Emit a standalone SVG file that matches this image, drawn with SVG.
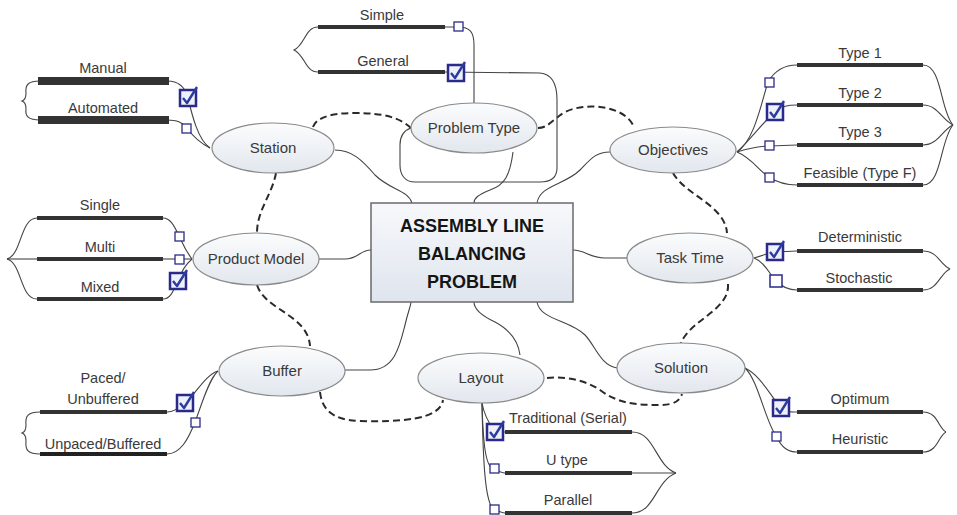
<svg xmlns="http://www.w3.org/2000/svg" xmlns:xlink="http://www.w3.org/1999/xlink" width="957" height="515" viewBox="0 0 957 515">
<defs>
<linearGradient id="eg" x1="0" y1="0" x2="0" y2="1">
<stop offset="0" stop-color="#fbfcfd"/><stop offset="1" stop-color="#e2e7ee"/>
</linearGradient>
<linearGradient id="cg" x1="0" y1="0" x2="0" y2="1">
<stop offset="0" stop-color="#f7f8fb"/><stop offset="1" stop-color="#dfe5ee"/>
</linearGradient>
<g id="chk">
<rect x="0" y="0" width="16" height="16" fill="#eef0fa" stroke="#2a2a8a" stroke-width="2.5"/>
<path d="M3,8 L7,13 L17,-3" fill="none" stroke="#2c3c9e" stroke-width="2.4" stroke-linejoin="round"/>
</g>
<rect id="box" x="0" y="0" width="9" height="9" fill="#fff" stroke="#2a2a8a" stroke-width="1.3"/>
</defs>
<style>
.ln{fill:none;stroke:#444;stroke-width:1.1}
.dash{fill:none;stroke:#2a2a2a;stroke-width:2;stroke-dasharray:7 4}
.bar{stroke:#333;stroke-width:4}
.node{fill:url(#eg);stroke:#8a8a8a;stroke-width:1.2}
.nt{font-family:"Liberation Sans",Arial,sans-serif;font-size:15px;fill:#3a3a3a;text-anchor:middle}
.bt{font-family:"Liberation Sans",Arial,sans-serif;font-size:14.5px;fill:#3a3a3a;text-anchor:middle}
.ct{font-family:"Liberation Sans",Arial,sans-serif;font-size:18px;font-weight:bold;fill:#151515;text-anchor:middle}
</style>
<rect width="957" height="515" fill="#fff"/>

<g id="connectors">
<!-- to center -->
<path class="ln" d="M335,150 C352,150 362,160 375,175 C390,190 408,190 412,203"/>
<path class="ln" d="M513,152 C510,175 505,185 490,190 C478,195 474,198 474,203"/>
<path class="ln" d="M610,152 C595,152 590,160 580,170 C565,185 540,185 537,203"/>
<path class="ln" d="M319,259 L345,259 C358,259 360,250 371,250"/>
<path class="ln" d="M573,250 C585,250 590,258 605,258 L627,258"/>
<path class="ln" d="M345,370 L370,370 C395,370 400,345 405,325 C408,312 411,305 411,302"/>
<path class="ln" d="M520,355 C518,340 510,330 495,322 C480,315 474,308 474,302"/>
<path class="ln" d="M617,368 C600,365 595,345 585,335 C570,320 540,320 537,302"/>
<!-- dashed -->
<path class="dash" d="M313,127 C316,118 330,113 355,113 C385,113 400,118 411,128"/>
<path class="dash" d="M538,128 C548,128 552,120 565,112 C585,102 625,105 634,127"/>
<path class="dash" d="M276,173 C272,195 257,210 257,233"/>
<path class="dash" d="M673,173 C685,195 725,205 727,233"/>
<path class="dash" d="M728,284 C730,310 690,320 681,343"/>
<path class="dash" d="M257,285 C265,310 308,315 310,346"/>
<path class="dash" d="M320,392 C322,408 330,420 360,421 C400,422 440,420 443,400"/>
<path class="dash" d="M547,378 C565,376 585,380 600,390 C620,405 640,405 660,405 C675,405 680,400 682,394"/>
<!-- Station branches -->
<path class="ln" d="M210,148 C198,140 192,115 188,98 C185,86 178,81 167,81"/>
<path class="ln" d="M210,148 C200,143 192,135 187,128 C182,122 177,120 167,120"/>
<path class="ln" d="M40,81 C28,81 25,85 26,93 C26,98 25,100 22,101 C25,102 26,104 26,109 C25,116 28,120 40,120"/>
<!-- Problem Type branches -->
<path class="ln" d="M474,103 L474,45 C474,32 470,27 458,27 L445,27"/>
<path class="ln" d="M445,72 L540,73 C552,74 557,85 557,100 L557,168 C557,178 550,182 540,182 L415,182 C405,182 400,175 400,165 L400,145 C400,135 405,130 411,128"/>
<path class="ln" d="M318,27 C305,27 305,45 294,50 C305,55 305,72 318,72"/>
<!-- Objectives branches -->
<path class="ln" d="M737,152 C755,140 762,100 768,82 C775,70 785,65 797,65"/>
<path class="ln" d="M737,152 C750,140 765,120 775,112 C782,106 788,105 797,105"/>
<path class="ln" d="M737,152 C750,148 760,146 770,146 L797,145"/>
<path class="ln" d="M737,152 C752,158 760,172 769,177 C778,183 786,185 797,185"/>
<path class="ln" d="M923,65 C942,65 940,110 953,125"/>
<path class="ln" d="M923,105 C938,105 942,120 953,125"/>
<path class="ln" d="M923,145 C938,145 942,130 953,125"/>
<path class="ln" d="M923,185 C942,185 940,140 953,125"/>
<!-- Product Model branches -->
<path class="ln" d="M192,259 C185,250 182,242 179,236 C174,225 170,218 163,218"/>
<path class="ln" d="M192,259 L163,259"/>
<path class="ln" d="M192,259 C185,265 180,275 178,281 C173,292 170,299 163,299"/>
<path class="ln" d="M37,218 C20,218 22,255 7,259"/>
<path class="ln" d="M37,259 L7,259"/>
<path class="ln" d="M37,299 C20,299 22,263 7,259"/>
<!-- Task Time branches -->
<path class="ln" d="M754,258 C765,255 770,252 775,252 L797,251"/>
<path class="ln" d="M754,258 C765,262 770,275 776,281 C782,287 788,290 797,290"/>
<path class="ln" d="M923,251 C938,251 940,265 950,269"/>
<path class="ln" d="M923,290 C938,290 940,273 950,269"/>
<!-- Buffer branches -->
<path class="ln" d="M218,371 C205,375 195,395 185,403 C178,408 174,412 167,412"/>
<path class="ln" d="M218,371 C208,380 200,410 195,422 C188,440 180,454 167,454"/>
<path class="ln" d="M40,412 C28,412 25,416 26,425 C26,430 25,432 22,433 C25,434 26,436 26,441 C25,450 28,454 40,454"/>
<!-- Layout branches -->
<path class="ln" d="M482,403 C484,415 490,425 495,432 L505,432"/>
<path class="ln" d="M482,403 C483,440 485,468 494,469 C500,472 502,473 505,473"/>
<path class="ln" d="M482,403 C483,460 485,505 494,509 C500,512 502,513 505,513"/>
<path class="ln" d="M632,432 C655,432 655,465 676,473"/>
<path class="ln" d="M632,473 L676,473"/>
<path class="ln" d="M632,513 C655,513 655,481 676,473"/>
<!-- Solution branches -->
<path class="ln" d="M745,368 C760,375 770,395 781,408 C786,412 790,412 797,412"/>
<path class="ln" d="M745,368 C758,380 765,420 776,436 C782,448 788,452 797,452"/>
<path class="ln" d="M923,412 C938,412 938,428 946,432"/>
<path class="ln" d="M923,452 C938,452 938,436 946,432"/>
</g>

<g id="center">
<rect x="371" y="203" width="202" height="99" fill="url(#cg)" stroke="#6a6a6a" stroke-width="1.5"/>
<text class="ct" x="472" y="232">ASSEMBLY LINE</text>
<text class="ct" x="472" y="260">BALANCING</text>
<text class="ct" x="472" y="288">PROBLEM</text>
</g>

<g id="station">
<ellipse class="node" cx="273" cy="148" rx="61" ry="25"/>
<text class="nt" x="273" y="153">Station</text>
<rect class="bar" x="40" y="79" width="127" height="4" stroke="none" fill="#333"/>
<rect class="bar" x="40" y="118" width="127" height="4" stroke="none" fill="#333"/>
<text class="bt" x="103" y="73">Manual</text>
<text class="bt" x="103" y="113">Automated</text>
<use xlink:href="#chk" x="180" y="90"/>
<use xlink:href="#box" x="182" y="124"/>
</g>

<g id="problem-type">
<ellipse class="node" cx="474" cy="128" rx="63" ry="25"/>
<text class="nt" x="474" y="133">Problem Type</text>
<rect x="318" y="25" width="127" height="4" fill="#333"/>
<rect x="318" y="70" width="127" height="4" fill="#333"/>
<text class="bt" x="382" y="20">Simple</text>
<text class="bt" x="383" y="66">General</text>
<use xlink:href="#box" x="454" y="22"/>
<use xlink:href="#chk" x="448" y="65"/>
</g>

<g id="objectives">
<ellipse class="node" cx="673" cy="150" rx="63" ry="23"/>
<text class="nt" x="673" y="155">Objectives</text>
<rect x="797" y="63" width="126" height="4" fill="#333"/>
<rect x="797" y="103" width="126" height="4" fill="#333"/>
<rect x="797" y="143" width="126" height="4" fill="#333"/>
<rect x="797" y="183" width="126" height="4" fill="#333"/>
<text class="bt" x="860" y="58">Type 1</text>
<text class="bt" x="860" y="98">Type 2</text>
<text class="bt" x="860" y="137">Type 3</text>
<text class="bt" x="860" y="178">Feasible (Type F)</text>
<use xlink:href="#box" x="765" y="78"/>
<use xlink:href="#chk" x="767" y="104"/>
<use xlink:href="#box" x="765" y="141"/>
<use xlink:href="#box" x="765" y="173"/>
</g>

<g id="product-model">
<ellipse class="node" cx="256" cy="259" rx="63" ry="26"/>
<text class="nt" x="256" y="264">Product Model</text>
<rect x="37" y="216" width="126" height="4" fill="#333"/>
<rect x="37" y="257" width="126" height="4" fill="#333"/>
<rect x="37" y="297" width="126" height="4" fill="#333"/>
<text class="bt" x="100" y="210">Single</text>
<text class="bt" x="100" y="252">Multi</text>
<text class="bt" x="100" y="292">Mixed</text>
<use xlink:href="#box" x="175" y="232"/>
<use xlink:href="#box" x="175" y="255"/>
<use xlink:href="#chk" x="170" y="273"/>
</g>

<g id="task-time">
<ellipse class="node" cx="690" cy="258" rx="63" ry="25"/>
<text class="nt" x="690" y="263">Task Time</text>
<rect x="797" y="249" width="126" height="4" fill="#333"/>
<rect x="797" y="288" width="126" height="4" fill="#333"/>
<text class="bt" x="860" y="242">Deterministic</text>
<text class="bt" x="859" y="283">Stochastic</text>
<use xlink:href="#chk" x="767" y="244"/>
<rect x="770" y="275" width="12" height="12" fill="#fff" stroke="#2a2a8a" stroke-width="1.5"/>
</g>

<g id="buffer">
<ellipse class="node" cx="282" cy="371" rx="63" ry="25"/>
<text class="nt" x="282" y="376">Buffer</text>
<rect x="40" y="410" width="127" height="4" fill="#333"/>
<rect x="40" y="452" width="127" height="4" fill="#222"/>
<text class="bt" x="103" y="383">Paced/</text>
<text class="bt" x="103" y="404">Unbuffered</text>
<text class="bt" x="103" y="449">Unpaced/Buffered</text>
<use xlink:href="#chk" x="177" y="395"/>
<use xlink:href="#box" x="191" y="418"/>
</g>

<g id="layout">
<ellipse class="node" cx="481" cy="378" rx="63" ry="25"/>
<text class="nt" x="481" y="383">Layout</text>
<rect x="505" y="430" width="127" height="4" fill="#333"/>
<rect x="505" y="471" width="127" height="4" fill="#333"/>
<rect x="505" y="511" width="127" height="4" fill="#333"/>
<text class="bt" x="568" y="423">Traditional (Serial)</text>
<text class="bt" x="567" y="465">U type</text>
<text class="bt" x="568" y="505">Parallel</text>
<use xlink:href="#chk" x="487" y="424"/>
<use xlink:href="#box" x="490" y="464"/>
<use xlink:href="#box" x="490" y="505"/>
</g>

<g id="solution">
<ellipse class="node" cx="681" cy="368" rx="64" ry="25"/>
<text class="nt" x="681" y="373">Solution</text>
<rect x="797" y="410" width="126" height="4" fill="#333"/>
<rect x="797" y="450" width="126" height="4" fill="#333"/>
<text class="bt" x="860" y="404">Optimum</text>
<text class="bt" x="860" y="444">Heuristic</text>
<use xlink:href="#chk" x="773" y="400"/>
<use xlink:href="#box" x="772" y="432"/>
</g>
</svg>
